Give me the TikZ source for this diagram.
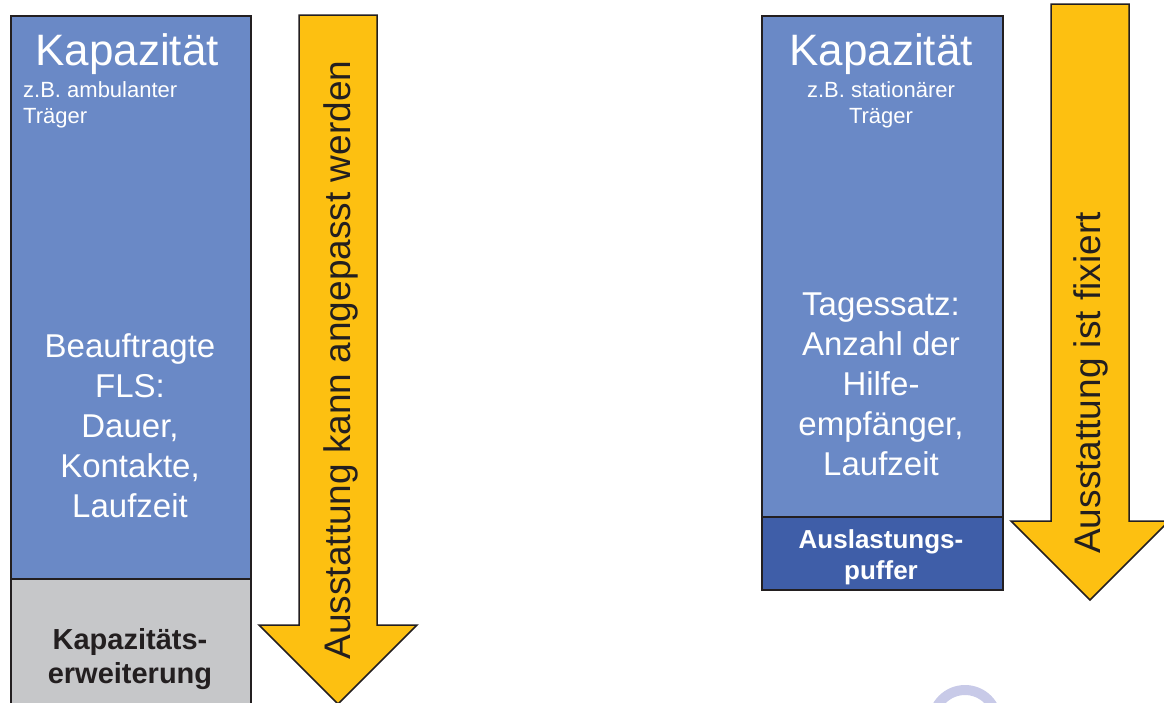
\documentclass[tikz,border=0pt]{standalone}
\usepackage{fontspec}
\setmainfont{Liberation Sans}
\usepackage{xcolor}
\definecolor{capblue}{RGB}{106, 137, 198}
\definecolor{bufferblue}{RGB}{63, 94, 168}
\definecolor{extgray}{RGB}{198, 199, 201}
\definecolor{arrowyellow}{RGB}{253, 192, 17}
\definecolor{linegray}{RGB}{35, 31, 32}
\definecolor{markviolet}{RGB}{200, 202, 232}
\usetikzlibrary{positioning}

\begin{document}
\begin{tikzpicture}[
    x=1pt, y=-1pt,
    block/.style={rectangle, draw=linegray, line width=1.5pt, anchor=north west, inner sep=0pt},
    title/.style={text=white, font=\fontsize{44}{52}\selectfont, anchor=base, inner sep=0pt},
    hint/.style={text=white, font=\fontsize{22}{26}\selectfont, inner sep=0pt, anchor=north},
    body/.style={text=white, font=\fontsize{33}{40}\selectfont, align=center, inner sep=0pt, anchor=north},
    boldlabel/.style={font=\bfseries\fontsize{29}{34}\selectfont, align=center, inner sep=0pt, anchor=north},
    arrowlabel/.style={text=linegray, font=\fontsize{37}{44}\selectfont, rotate=90, anchor=base, inner sep=0pt},
    downarrow/.style={fill=arrowyellow, draw=linegray, line width=1.5pt, line join=miter}
]
    \useasboundingbox (0,0) rectangle (1164,702);
    \clip (0,0) rectangle (1164,702);

    % Left column - ambulant
    \node[block, fill=capblue, minimum width=240pt, minimum height=563pt] (kapL) at (10,15) {};
    \node[block, fill=extgray, minimum width=240pt, minimum height=140pt] (erwL) at (10,578) {};
    \node[title] (kapLtitle) at (127,65) {Kapazität};
    \node[hint, anchor=north west, align=left] (kapLhint) at (23,81) {z.B. ambulanter\\Träger};
    \node[body] (kapLbody) at (130,333) {Beauftragte\\FLS:\\Dauer,\\Kontakte,\\Laufzeit};
    \node[boldlabel, text=linegray] (erwLlabel) at (130,628) {Kapazitäts-\\erweiterung};

    % Left arrow
    \draw[downarrow] (299,15) -- (377,15) -- (377,625) -- (417,625) -- (338,704) -- (259,625) -- (299,625) -- cycle;
    \node[arrowlabel] (arrowLlabel) at (350,360) {Ausstattung kann angepasst werden};

    % Right column - stationaer
    \node[block, fill=capblue, minimum width=241pt, minimum height=501pt] (kapR) at (761,15) {};
    \node[block, fill=bufferblue, minimum width=241pt, minimum height=73pt] (pufR) at (761,516) {};
    \node[title] (kapRtitle) at (881,65) {Kapazität};
    \node[hint, align=center] (kapRhint) at (881,81) {z.B. stationärer\\Träger};
    \node[body] (kapRbody) at (881,293) {Tagessatz:\\Anzahl der\\Hilfe-\\empfänger,\\Laufzeit};
    \node[boldlabel, text=white, font=\bfseries\fontsize{26}{31}\selectfont] (pufRlabel) at (881,529) {Auslastungs-\\puffer};

    % Right arrow
    \draw[downarrow] (1051,4) -- (1129,4) -- (1129,521) -- (1169,521) -- (1090,600) -- (1011,521) -- (1051,521) -- cycle;
    \node[arrowlabel] (arrowRlabel) at (1100,383) {Ausstattung ist fixiert};

    % Watermark
    \draw[markviolet, line width=10pt] (965,722) circle[radius=32];
\end{tikzpicture}
\end{document}
